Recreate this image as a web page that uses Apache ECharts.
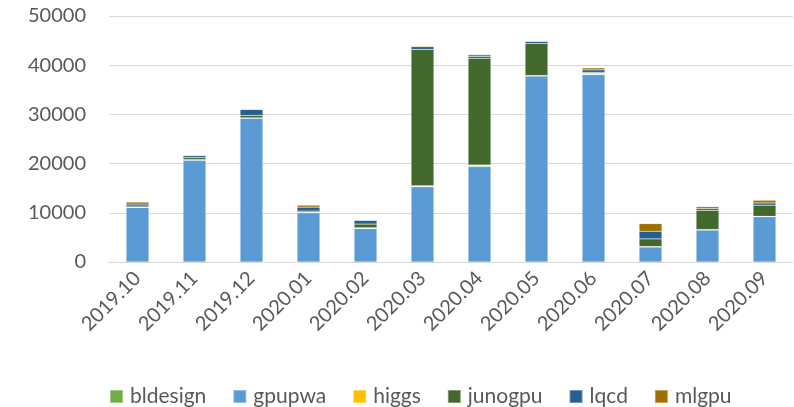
<!DOCTYPE html>
<html>
<head>
<meta charset="utf-8">
<script src="https://cdn.jsdelivr.net/npm/echarts@6/dist/echarts.min.js"></script>
<style>
  html, body { margin: 0; padding: 0; background: #fff; }
  #chart { width: 794px; height: 407px; }
</style>
</head>
<body>
<div id="chart"></div>
<script>
const months = ['2019.10', '2019.11', '2019.12', '2020.01', '2020.02', '2020.03',
  '2020.04', '2020.05', '2020.06', '2020.07', '2020.08', '2020.09']

const bldesign = [50, 50, 50, 50, 80, 100, 150, 50, 100, 50, 50, 50]
const gpupwa = [11100, 20700, 29200, 10000, 6800, 15300, 19400, 37800, 38100, 3050, 6500, 9200]
const higgs = [50, 50, 50, 50, 80, 100, 150, 50, 150, 50, 50, 50]
const junogpu = [400, 400, 500, 250, 750, 27700, 21700, 6500, 200, 1550, 3900, 2250]
const lqcd = [400, 400, 1200, 800, 750, 550, 400, 400, 500, 1550, 350, 450]
const mlgpu = [250, 150, 100, 400, 100, 150, 350, 150, 400, 1550, 400, 550]

const yTicks = [0, 10000, 20000, 30000, 40000, 50000]

const colors = {
  bldesign: '#70AD47',
  gpupwa: '#5B9BD5',
  higgs: '#FFC000',
  junogpu: '#43682B',
  lqcd: '#255E91',
  mlgpu: '#9E7000'
}

const seriesData = { bldesign, gpupwa, higgs, junogpu, lqcd, mlgpu }

// excel stacks gpupwa at the bottom, then the rest in legend order
const stackOrder = ['gpupwa', 'bldesign', 'higgs', 'junogpu', 'lqcd', 'mlgpu']

const chart = echarts.init(document.getElementById('chart'))

const series = stackOrder.map(name => ({
  name: name,
  type: 'bar',
  stack: 'total',
  barWidth: '40%',
  data: seriesData[name],
  itemStyle: {
    color: colors[name],
    borderColor: 'rgba(255,255,255,0.35)',
    borderWidth: 0.5
  }
}))

chart.setOption({
  animation: false,
  textStyle: { fontFamily: 'Lato' },
  grid: { left: 109, right: 1, top: 16, bottom: 145, containLabel: false },
  legend: {
    data: Object.keys(colors),
    top: 381,
    left: 104,
    itemWidth: 13,
    itemHeight: 13,
    itemGap: 26,
    icon: 'rect',
    textStyle: { fontSize: 21, color: '#595959', fontFamily: 'Lato', padding: [0, 0, 0, 2] }
  },
  xAxis: {
    type: 'category',
    data: months,
    axisLine: { lineStyle: { color: '#d9d9d9', width: 1 } },
    axisTick: { show: false },
    axisLabel: {
      rotate: 45,
      fontSize: 20,
      color: '#595959',
      margin: 13,
      interval: 0
    }
  },
  yAxis: {
    type: 'value',
    min: yTicks[0],
    max: yTicks[yTicks.length - 1],
    interval: 10000,
    axisLine: { show: false },
    axisTick: { show: false },
    splitLine: { lineStyle: { color: '#d9d9d9', width: 1 } },
    axisLabel: { fontSize: 20, color: '#595959', margin: 23, formatter: v => String(v) }
  },
  series: series
})
</script>
</body>
</html>
